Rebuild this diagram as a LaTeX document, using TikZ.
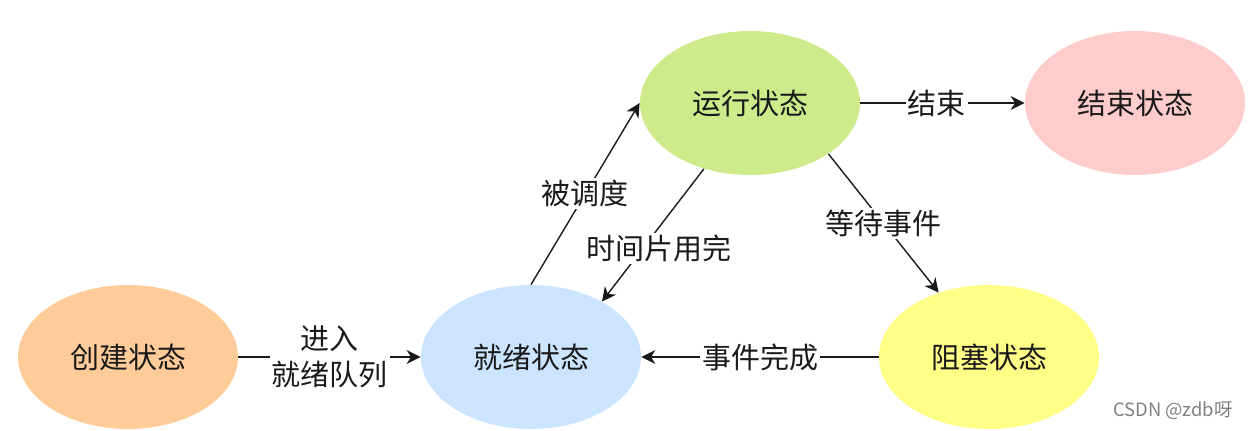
\documentclass[tikz,border=0pt]{standalone}
\usepackage{fontspec}
\newfontfamily\cjk{Noto Sans CJK SC}
\usetikzlibrary{shapes.geometric,arrows.meta}
\definecolor{cOrange}{HTML}{FFCC99}
\definecolor{cBlue}{HTML}{CCE5FF}
\definecolor{cGreen}{HTML}{CDEB8B}
\definecolor{cPink}{HTML}{FFCCCC}
\definecolor{cYellow}{HTML}{FFFF88}
\definecolor{cText}{HTML}{1A1A1A}
\begin{document}
\begin{tikzpicture}[x=0.5pt,y=-0.5pt,
  state/.style={ellipse, minimum width=110pt, minimum height=72pt, inner sep=0pt,
    font=\cjk\fontsize{14.5}{18}\selectfont, text=cText},
  edge/.style={line width=0.7pt, draw=cText, -{Stealth[length=7pt,width=7pt,inset=2.2pt]}},
  lbl/.style={fill=white, inner sep=1pt, align=center, text=cText,
    font=\cjk\fontsize{14.5}{18}\selectfont}]
\useasboundingbox (0,0) rectangle (1250,430);
\node[state, fill=cOrange] (create) at (128,357) {创建状态};
\node[state, fill=cBlue] (ready) at (531,357) {就绪状态};
\node[state, fill=cGreen] (run) at (750,103) {运行状态};
\node[state, fill=cPink] (end) at (1135,103) {结束状态};
\node[state, fill=cYellow] (block) at (989,357) {阻塞状态};
\draw[edge] (create) -- node[lbl] {进入\\就绪队列} (ready);
\draw[edge] (run) -- node[lbl, xshift=-3pt] {结束} (end);
\draw[edge] (block) -- node[lbl] {事件完成} (ready);
\draw[edge] (ready.90) -- node[lbl] {被调度} (run.180);
\draw[edge] (run.235) -- node[lbl, pos=0.6, xshift=8pt] {时间片用完} (ready.38);
\draw[edge] (run.-33) -- node[lbl] {等待事件} (block.128);
\node[font=\cjk\fontsize{9.2}{11}\selectfont, text=gray, inner sep=0pt] (wm) at (1173,411) {CSDN @zdb呀};
\end{tikzpicture}
\end{document}
